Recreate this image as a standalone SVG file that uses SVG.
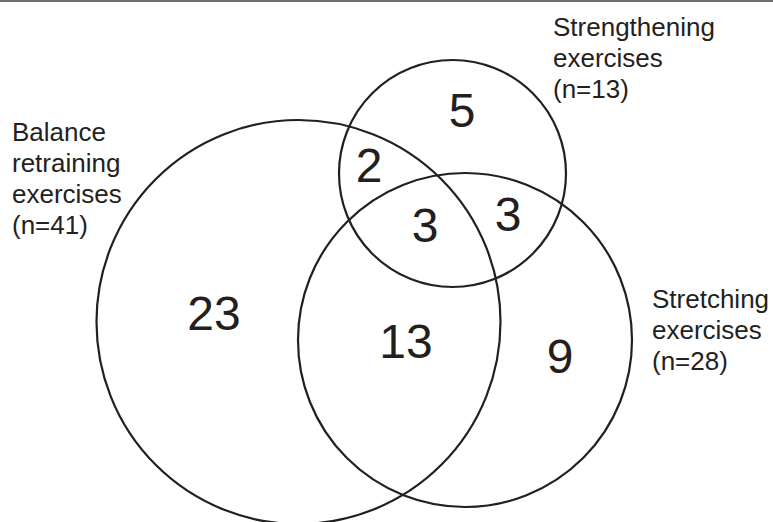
<svg xmlns="http://www.w3.org/2000/svg" width="773" height="522" viewBox="0 0 773 522">
<style>
.c{fill:none;stroke:#231f20;stroke-width:2.2}
.lbl{font-family:"Liberation Sans",Arial,Helvetica,sans-serif;font-size:26px;fill:#231f20}
.num{font-family:"Liberation Sans",Arial,Helvetica,sans-serif;font-size:48px;fill:#231f20;text-anchor:middle}
</style>
<rect x="0" y="0" width="773" height="522" fill="#ffffff"/>
<line x1="0" y1="1" x2="773" y2="1" stroke="#6d6d6d" stroke-width="2"/>
<g id="balance">
<circle class="c" cx="298.5" cy="322" r="202"/>
<text class="lbl" x="12" y="141">Balance</text>
<text class="lbl" x="12" y="172">retraining</text>
<text class="lbl" x="12" y="203">exercises</text>
<text class="lbl" x="12" y="234">(n=41)</text>
</g>
<g id="strengthening">
<circle class="c" cx="452.5" cy="173.5" r="113.5"/>
<text class="lbl" x="553" y="36">Strengthening</text>
<text class="lbl" x="553" y="67">exercises</text>
<text class="lbl" x="553" y="98">(n=13)</text>
</g>
<g id="stretching">
<circle class="c" cx="465" cy="340" r="167"/>
<text class="lbl" x="652" y="308">Stretching</text>
<text class="lbl" x="652" y="339">exercises</text>
<text class="lbl" x="652" y="370">(n=28)</text>
</g>
<g id="counts">
<text class="num" x="462" y="127">5</text>
<text class="num" x="369" y="182">2</text>
<text class="num" x="425" y="242">3</text>
<text class="num" x="508" y="231">3</text>
<text class="num" x="214" y="330">23</text>
<text class="num" x="406" y="358">13</text>
<text class="num" x="560" y="373">9</text>
</g>
<g id="connectors"></g>
</svg>
